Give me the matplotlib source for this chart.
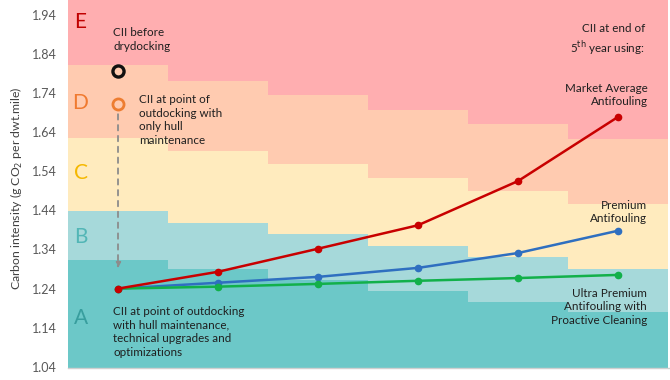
import numpy as np
import matplotlib
matplotlib.use("Agg")
import matplotlib.pyplot as plt

plt.rcParams['font.family'] = ['Lato', 'DejaVu Sans']

# --- DATA ---
years = [0, 1, 2, 3, 4, 5]

# CII rating band boundaries per year (lower edge of B, C, D, E)
band_ab = [1.314, 1.289, 1.262, 1.234, 1.206, 1.180]
band_bc = [1.438, 1.408, 1.380, 1.349, 1.321, 1.291]
band_cd = [1.626, 1.592, 1.559, 1.523, 1.490, 1.457]
band_de = [1.811, 1.771, 1.735, 1.697, 1.660, 1.623]
band_names = ["A", "B", "C", "D", "E"]

market_avg = [1.240, 1.283, 1.342, 1.402, 1.515, 1.679]
premium = [1.240, 1.255, 1.270, 1.293, 1.331, 1.388]
ultra_premium = [1.240, 1.245, 1.252, 1.260, 1.267, 1.275]

cii_before_drydock = 1.797
cii_hull_only = 1.712

yticks = [1.04, 1.14, 1.24, 1.34, 1.44, 1.54, 1.64, 1.74, 1.84, 1.94]

# --- STYLE ---
y_lo, y_hi = 1.037, 1.978
band_colors = ["#6cc8c8", "#a6d9da", "#ffebbe", "#ffcbb0", "#ffaeb0"]
letter_colors = ["#389e9e", "#52b6b6", "#f5b800", "#f07a30", "#c00000"]
letter_y = [1.165, 1.372, 1.536, 1.715, 1.922]
txt_color = "#1f1f1f"

fig = plt.figure(figsize=(6.7, 3.8), dpi=100)
ax = fig.add_axes([0.1015, 0.0316, 0.897, 0.9684])

# rating bands as stacked bars, one per year column
edges = [np.full(len(years), y_lo), band_ab, band_bc, band_cd, band_de, np.full(len(years), y_hi)]
for i in range(5):
    lo = np.array(edges[i])
    hi = np.array(edges[i + 1])
    ax.bar(years, hi - lo, bottom=lo, width=1.0, color=band_colors[i], linewidth=0, zorder=1)

for name, c, yy in zip(band_names, letter_colors, letter_y):
    ax.text(-0.375, yy, name, color=c, fontsize=15, ha="center", va="center", zorder=3)

# trajectories
ax.plot(years, market_avg, "-o", color="#c80000", lw=1.8, ms=4.5, zorder=5)
ax.plot(years, premium, "-o", color="#2f6fc0", lw=1.8, ms=4.5, zorder=4)
ax.plot(years, ultra_premium, "-o", color="#12b04a", lw=1.8, ms=4.5, zorder=4)

# drydocking markers
ax.plot([0], [cii_before_drydock], "o", ms=8, mfc="none", mec="#111111", mew=2.4, zorder=5)
ax.plot([0], [cii_hull_only], "o", ms=8, mfc="none", mec="#ed7d31", mew=2.0, zorder=5)
ax.annotate("", xy=(0, 1.292), xytext=(0, 1.686),
            arrowprops=dict(arrowstyle="-|>", color="#8c8c8c", lw=1.3, ls=(0, (3, 3)),
                            mutation_scale=8, shrinkA=0, shrinkB=0), zorder=3)

fs = 8.4
ls = 1.32
ax.text(-0.05, 1.876, "CII before\ndrydocking", fontsize=fs, color=txt_color,
        ha="left", va="center", linespacing=ls, zorder=6)
ax.text(0.21, 1.671, "CII at point of\noutdocking with\nonly hull\nmaintenance", fontsize=fs,
        color=txt_color, ha="left", va="center", linespacing=ls, zorder=6)
ax.text(-0.05, 1.129, "CII at point of outdocking\nwith hull maintenance,\ntechnical upgrades and\noptimizations",
        fontsize=fs, color=txt_color, ha="left", va="center", linespacing=ls, zorder=6)
ax.text(5.27, 1.876, "CII at end of\n5$^{\\rm th}$ year using:", fontsize=fs, color=txt_color,
        ha="right", va="center", linespacing=ls, zorder=6)
ax.text(5.30, 1.735, "Market Average\nAntifouling", fontsize=fs, color=txt_color,
        ha="right", va="center", linespacing=ls, zorder=6)
ax.text(5.29, 1.436, "Premium\nAntifouling", fontsize=fs, color=txt_color,
        ha="right", va="center", linespacing=ls, zorder=6)
ax.text(5.29, 1.193, "Ultra Premium\nAntifouling with\nProactive Cleaning", fontsize=fs,
        color=txt_color, ha="right", va="center", linespacing=ls, zorder=6)

ax.set_xlim(-0.5, 5.51)
ax.set_ylim(y_lo, y_hi)
ax.set_yticks(yticks)
ax.set_yticklabels([f"{v:.2f}" for v in yticks])
ax.tick_params(axis="y", length=0, pad=8, labelsize=9, labelcolor="#595959")
ax.set_xticks([])
for s in ["top", "right", "left"]:
    ax.spines[s].set_visible(False)
ax.spines["bottom"].set_color("#d0d0d0")
ax.spines["bottom"].set_linewidth(1.0)
ax.set_ylabel("Carbon intensity (g CO$_2$ per dwt.mile)", fontsize=8.8, color="#404040")
ax.yaxis.set_label_coords(-0.072, 0.49)

fig.savefig("out.png", dpi=100)
